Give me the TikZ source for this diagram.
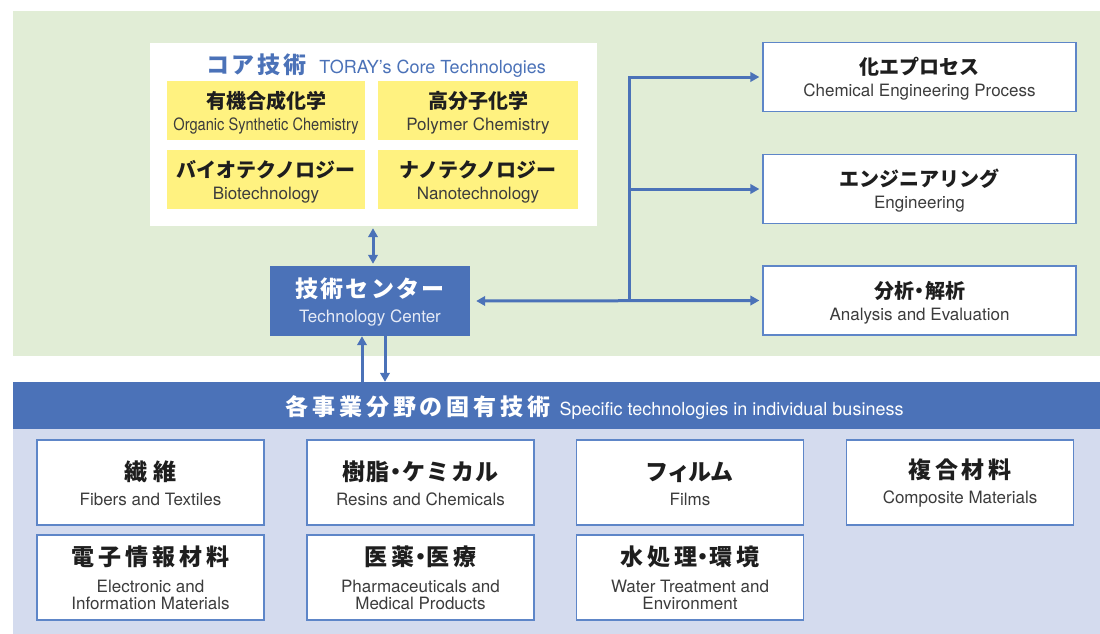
\documentclass[tikz,border=0pt]{standalone}
\usepackage{fontspec}
\usepackage{graphicx}
\setmainfont{TeX Gyre Heros}
\newfontfamily\jp{Noto Sans CJK JP}
\usetikzlibrary{arrows.meta}
\definecolor{greenbg}{HTML}{E1EDD6}
\definecolor{tblue}{HTML}{4B72B8}
\definecolor{lav}{HTML}{D4DBEE}
\definecolor{yel}{HTML}{FFF280}
\definecolor{bord}{HTML}{5E86C8}
\definecolor{jptext}{HTML}{1E1E1E}
\definecolor{entext}{HTML}{3C3C3C}
\definecolor{tcen}{HTML}{E6EBF6}
\newcommand\nd{\makebox[0.55em][c]{・}}
\newcommand\JA[1]{{\color{jptext}\fontsize{20}{22}\jp\bfseries #1}}
\newcommand\JB[2][17]{{\color{jptext}\fontsize{23}{25}\jp\bfseries\addfontfeatures{LetterSpace=#1}#2}}
\newcommand\EN[1]{{\color{entext}#1}}
\begin{document}
\begin{tikzpicture}[x=1pt,y=-1pt,
  txt/.style={inner sep=0pt, align=center, font=\fontsize{17}{22}\selectfont},
  txtb/.style={txt, font=\fontsize{17}{25}\selectfont},
  txtc/.style={txt, font=\fontsize{17}{17}\selectfont},
  ybox/.style={fill=yel, minimum height=59pt, inner sep=0pt},
  rbox/.style={draw=bord, line width=1.3pt, fill=white, minimum width=313pt, minimum height=69pt, inner sep=0pt},
  bbox/.style={draw=bord, line width=1.3pt, fill=white, minimum width=227pt, minimum height=85pt, inner sep=0pt},
  arr/.style={draw=tblue, line width=3pt, -{Triangle[length=9pt,width=9.5pt]}},
  darr/.style={draw=tblue, line width=3pt, {Triangle[length=9pt,width=9.5pt]}-{Triangle[length=9pt,width=9.5pt]}}
]
\useasboundingbox (0,0) rectangle (1100,634);
\fill[greenbg] (13,11) rectangle (1100,356);
\fill[lav] (13,428) rectangle (1100,634);

% core technologies
\node[fill=white, minimum width=447pt, minimum height=183pt, inner sep=0pt] (core) at (373.5,134.5) {};
\node[inner sep=0pt, text=tblue] (coreT) at (376,66)
  {{\fontsize{23}{25}\jp\bfseries\addfontfeatures{LetterSpace=12}コア技術}\hspace{13pt}{\fontsize{18}{20}\selectfont TORAY’s Core Technologies}};
\node[ybox, minimum width=198pt] (org) at (266,110.5) {};
\node[ybox, minimum width=200pt] (poly) at (478,110.5) {};
\node[ybox, minimum width=198pt] (bio) at (266,179.5) {};
\node[ybox, minimum width=200pt] (nano) at (478,179.5) {};
\node[txt] (orgT) at ([yshift=-2pt]org.center) {\JA{有機合成化学}\\\EN{\scalebox{0.86}[1]{Organic Synthetic Chemistry}}};
\node[txt] (polyT) at ([yshift=-2pt]poly.center) {\JA{高分子化学}\\\EN{Polymer Chemistry}};
\node[txt] (bioT) at ([yshift=-2pt]bio.center) {\JA{バイオテクノロジー}\\\EN{Biotechnology}};
\node[txt] (nanoT) at ([yshift=-2pt]nano.center) {\JA{ナノテクノロジー}\\\EN{Nanotechnology}};

% technology center
\node[fill=tblue, minimum width=200pt, minimum height=70pt, inner sep=0pt] (tc) at (370,301) {};
\node[txtb] (tcT) at ([yshift=-1pt]tc.center)
  {{\color{white}\fontsize{23}{25}\jp\bfseries\addfontfeatures{LetterSpace=9}技術センター}\\{\color{tcen}Technology Center}};

% right boxes
\node[rbox] (chem) at (919.5,77) {};
\node[rbox] (eng) at (919.5,189) {};
\node[rbox] (ana) at (919.5,300.5) {};
\node[txt] (chemT) at ([yshift=-2pt]chem.center) {\JA{化エプロセス}\\\EN{Chemical Engineering Process}};
\node[txt] (engT) at ([yshift=-2pt]eng.center) {\JA{エンジニアリング}\\\EN{Engineering}};
\node[txt] (anaT) at ([yshift=-2pt]ana.center) {\JA{分析\nd 解析}\\\EN{Analysis and Evaluation}};

% band
\node[fill=tblue, minimum width=1087pt, minimum height=46.5pt, inner sep=0pt] (band) at (556.5,405.25) {};
\node[inner sep=0pt, text=white] (bandT) at (594.5,407)
  {{\fontsize{23}{25}\jp\bfseries\addfontfeatures{LetterSpace=17}各事業分野の固有技術}\hspace{9pt}{\fontsize{18}{20}\selectfont Specific technologies in individual business}};

% bottom boxes
\node[bbox] (fib) at (150.5,482.5) {};
\node[bbox] (res) at (420.5,482.5) {};
\node[bbox] (film) at (690,482.5) {};
\node[bbox] (comp) at (960,482.5) {};
\node[bbox] (elec) at (150.5,577.5) {};
\node[bbox] (pharm) at (420.5,577.5) {};
\node[bbox] (water) at (690,577.5) {};
\node[txtb] (fibT) at ([yshift=-1pt]fib.center) {\JB[22]{繊維}\\\EN{Fibers and Textiles}};
\node[txtb] (resT) at ([yshift=-1pt]res.center) {\JB[7]{樹脂\nd ケミカル}\\\EN{Resins and Chemicals}};
\node[txtb] (filmT) at ([yshift=-1pt]film.center) {{\color{jptext}\fontsize{23}{25}\jp\bfseries\addfontfeatures{LetterSpace=7,RawFeature=+palt}フィルム}\\\EN{Films}};
\node[txtb] (compT) at ([yshift=-1pt]comp.center) {\JB{複合材料}\\\EN{Composite Materials}};
\node[txtc] (elecT) at (elec.center) {\JB{電子情報材料}\\[10pt]\EN{Electronic and}\\\EN{Information Materials}};
\node[txtc] (pharmT) at (pharm.center) {\JB[16]{医薬\nd 医療}\\[10pt]\EN{Pharmaceuticals and}\\\EN{Medical Products}};
\node[txtc] (waterT) at (water.center) {\JB{水処理\nd 環境}\\[10pt]\EN{Water Treatment and}\\\EN{Environment}};

% connectors
\draw[darr, shorten <=2pt, shorten >=2pt] (core.south -| tc.north) ++(3,0) coordinate (cs) -- (cs |- tc.north);
\coordinate (j) at (629,301);
\draw[darr, shorten <=6pt, shorten >=3pt] (tc.east) -- (ana.west);
\draw[arr, shorten >=3pt] (j) |- (chem.west);
\draw[arr, shorten >=3pt] (j |- eng.west) -- (eng.west);
\draw[arr] ([xshift=-8pt]tc.south |- band.north) -- ([xshift=-8pt]tc.south);
\draw[arr] ([xshift=15pt]tc.south) -- ([xshift=15pt]tc.south |- band.north);
\end{tikzpicture}
\end{document}
